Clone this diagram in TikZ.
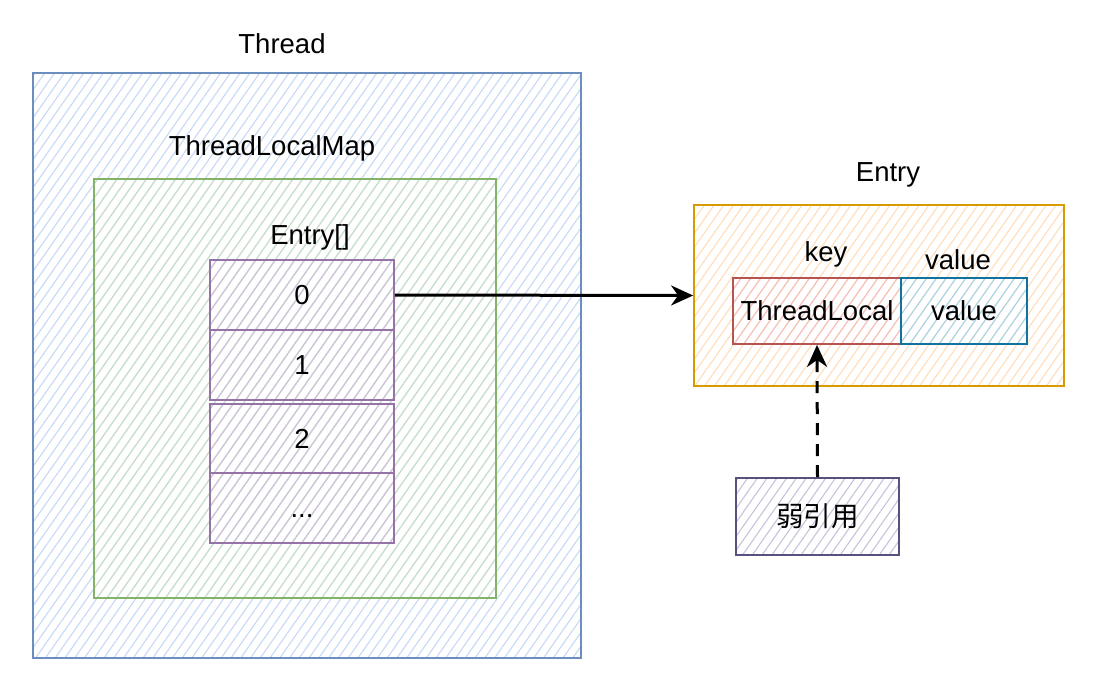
\documentclass[tikz,border=0pt]{standalone}
\usepackage{fontspec}
\setmainfont{Liberation Sans}
\newfontfamily\cjk{Noto Sans CJK SC}
\usetikzlibrary{patterns.meta,arrows.meta}
\definecolor{tblue}{HTML}{6C8EBF}
\definecolor{tbluef}{HTML}{C6D9F5}
\definecolor{mgreen}{HTML}{82B366}
\definecolor{mgreenf}{HTML}{C9E2C5}
\definecolor{cpurple}{HTML}{9673A6}
\definecolor{cpurplef}{HTML}{D3C3DD}
\definecolor{eorange}{HTML}{D79B00}
\definecolor{eorangef}{HTML}{FFDDBB}
\definecolor{kred}{HTML}{B85450}
\definecolor{kredf}{HTML}{F5C0BE}
\definecolor{vblue}{HTML}{10739E}
\definecolor{vbluef}{HTML}{A6D6EC}
\definecolor{wpurple}{HTML}{56517E}
\definecolor{wpurplef}{HTML}{C6C3DC}
\tikzset{
  box/.style={draw, line width=1.8pt, inner sep=0pt, anchor=center},
  hach/.style={pattern={Lines[angle=55,distance=8pt,line width=1.1pt]}, pattern color=#1},
  lbl/.style={inner sep=0pt, font=\fontsize{27.5}{33}\selectfont},
  cellt/.style={text height=19.7pt, text depth=0pt},
  conn/.style={line width=3pt, -{Stealth[length=22pt,width=20pt,inset=7pt]}},
}
\begin{document}
\begin{tikzpicture}[x=1pt,y=-1pt]
\useasboundingbox[fill=white] (0,0) rectangle (1093,681);
\node[box, draw=tblue, hach=tbluef, minimum width=548pt, minimum height=585pt] (thread) at (307,365.5) {};
\node[lbl] (threadl) at (282,44) {Thread};
\node[box, draw=mgreen, hach=mgreenf, minimum width=402pt, minimum height=419pt] (tlm) at (295,388.5) {};
\node[lbl] (tlml) at (272,148) {ThreadLocalMap};
\node[lbl] (arrl) at (310,237) {Entry[]};
\node[box, draw=cpurple, hach=cpurplef, minimum width=184pt, minimum height=70pt, lbl, cellt] (c0) at (302,295) {0};
\node[box, draw=cpurple, hach=cpurplef, minimum width=184pt, minimum height=70pt, lbl, cellt] (c1) at (302,365) {1};
\node[box, draw=cpurple, hach=cpurplef, minimum width=184pt, minimum height=69pt, lbl, cellt] (c2) at (302,438.5) {2};
\node[box, draw=cpurple, hach=cpurplef, minimum width=184pt, minimum height=70pt, lbl, cellt] (c3) at (302,508) {...};
\node[box, draw=eorange, hach=eorangef, minimum width=370pt, minimum height=181pt] (entry) at (879,295.5) {};
\node[lbl] (entryl) at (888,175) {Entry};
\node[lbl] (keyl) at (826,254) {key};
\node[lbl] (valuel) at (958,260) {value};
\node[box, draw=kred, hach=kredf, minimum width=168pt, minimum height=66pt, lbl] (tl) at (817,311) {ThreadLocal};
\node[box, draw=vblue, hach=vbluef, minimum width=126pt, minimum height=66pt, lbl] (val) at (964,311) {value};
\node[box, draw=wpurple, hach=wpurplef, minimum width=163pt, minimum height=77pt, lbl, font=\cjk\fontsize{27.5}{33}\selectfont] (weak) at (817.5,516.5) {弱引用};
\draw[conn] (c0.east) -- (entry.west);
\draw[conn, dash pattern=on 12pt off 9pt] (weak.north) -- (tl.south);
\end{tikzpicture}
\end{document}
